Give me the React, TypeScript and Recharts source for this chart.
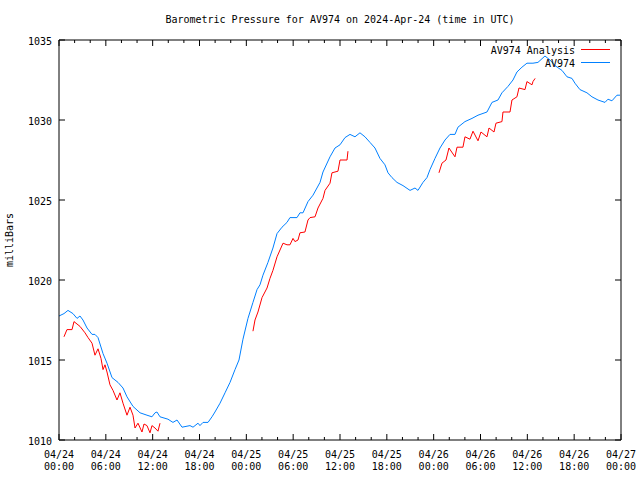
import { LineChart, Line, XAxis, YAxis } from 'recharts'

// hours since 04/24 00:00 UTC
const blueHours = [
  0, 0.64, 1.15, 1.79, 2.31, 2.69, 3.07, 3.59, 4.23, 4.61, 5.0, 5.64, 6.15, 6.79, 7.56, 8.2, 8.71, 9.48,
  10.38, 11.27, 11.91, 12.3, 12.55, 12.94, 13.96, 14.6, 15.12, 15.76, 16.78, 17.17, 17.81, 18.06, 18.45,
  19.09, 19.6, 19.98, 20.63, 21.27, 21.91, 22.55, 23.06, 23.57, 24.21, 24.85, 25.37, 25.75, 26.13, 26.77,
  27.41, 27.93, 28.57, 29.21, 29.59, 30.49, 30.87, 31.26, 31.9, 32.54, 33.44, 33.82, 34.72, 35.36, 36.0,
  36.64, 37.28, 37.92, 38.56, 39.2, 39.84, 40.48, 41.12, 41.76, 42.15, 42.66, 43.3, 44.07, 44.97, 45.61,
  45.99, 46.63, 47.14, 47.53, 48.17, 48.81, 49.45, 50.09, 50.73, 51.11, 52.01, 52.91, 53.68, 54.83, 55.47,
  56.24, 56.75, 57.52, 58.16, 58.67, 59.31, 59.95, 60.72, 61.36, 62.26, 62.9, 63.54, 64.44, 65.08, 65.72,
  66.1, 66.74, 67.64, 68.28, 69.05, 69.95, 70.33, 70.84, 71.48, 71.87,
]
const bluePressure = [
  1017.75, 1017.9, 1018.1, 1017.9, 1017.6, 1017.75, 1017.5, 1017.0, 1016.6, 1016.6, 1016.4, 1015.4, 1014.8,
  1013.9, 1013.6, 1013.25, 1012.7, 1012.1, 1011.7, 1011.55, 1011.45, 1011.7, 1011.75, 1011.45, 1011.3,
  1011.1, 1011.25, 1010.8, 1010.9, 1010.8, 1011.05, 1010.9, 1011.1, 1011.1, 1011.45, 1011.75, 1012.3,
  1012.95, 1013.6, 1014.4, 1015.0, 1016.3, 1017.6, 1018.6, 1019.4, 1019.7, 1020.3, 1021.1, 1022.0, 1022.9,
  1023.3, 1023.6, 1023.9, 1023.9, 1024.2, 1024.2, 1024.9, 1025.3, 1026.1, 1026.75, 1027.7, 1028.25,
  1028.45, 1028.9, 1029.1, 1028.95, 1029.2, 1028.95, 1028.6, 1028.25, 1027.6, 1027.2, 1026.7, 1026.4,
  1026.1, 1025.9, 1025.6, 1025.75, 1025.6, 1026.1, 1026.4, 1026.9, 1027.6, 1028.25, 1028.75, 1029.1,
  1029.1, 1029.55, 1029.9, 1030.1, 1030.3, 1030.5, 1031.1, 1031.25, 1031.7, 1032.1, 1032.5, 1033.0,
  1033.3, 1033.55, 1033.55, 1033.6, 1034.0, 1033.75, 1033.4, 1033.1, 1032.7, 1032.6, 1032.3, 1031.9,
  1031.7, 1031.45, 1031.25, 1031.1, 1031.3, 1031.2, 1031.55, 1031.55,
]

// analysis runs, null = gap between runs
const redHours = [
  0.64, 1.02, 1.67, 1.92, 2.69, 3.33, 3.72, 4.23, 4.61, 5.0, 5.38, 5.64, 5.89, 6.15, 6.53, 6.92, 7.43, 7.81,
  8.2, 8.71, 9.1, 9.48, 9.74, 10.12, 10.63, 10.89, 11.27, 11.66, 11.91, 12.3, 12.68, 12.94,
  13.5,
  24.85, 25.11, 25.49, 26.01, 26.65, 27.03, 27.41, 27.93, 28.7, 29.21, 29.59, 29.98, 30.23, 30.62, 30.87,
  31.51, 31.9, 32.16, 32.8, 33.18, 33.82, 34.08, 34.72, 34.97, 35.74, 36.0, 36.9, 37.02,
  42,
  48.68, 49.06, 49.58, 49.96, 50.73, 50.99, 51.75, 52.01, 52.65, 53.04, 53.68, 54.06, 54.83, 55.09, 55.73,
  55.98, 56.75, 56.88, 57.78, 58.03, 58.67, 58.93, 59.7, 59.95, 60.6, 60.72, 61.0,
]
const redPressure: (number | null)[] = [
  1016.45, 1016.9, 1016.9, 1017.4, 1017.1, 1016.7, 1016.4, 1016.05, 1015.3, 1015.7, 1015.1, 1014.4, 1014.7,
  1014.25, 1013.45, 1013.1, 1012.5, 1012.95, 1012.3, 1011.55, 1012.05, 1011.55, 1010.75, 1011.05, 1010.5,
  1011.0, 1010.9, 1010.45, 1010.9, 1010.75, 1010.55, 1011.05,
  null,
  1016.8, 1017.5, 1018.0, 1018.9, 1019.5, 1020.1, 1020.6, 1021.45, 1022.3, 1022.2, 1022.2, 1022.6, 1022.4,
  1022.5, 1022.95, 1023.0, 1023.75, 1023.9, 1023.95, 1024.5, 1025.1, 1025.6, 1026.05, 1026.7, 1026.8,
  1027.5, 1027.5, 1028.05,
  null,
  1026.7, 1027.3, 1027.5, 1028.25, 1027.7, 1028.3, 1028.3, 1028.95, 1028.8, 1029.3, 1028.7, 1029.25,
  1028.95, 1029.5, 1029.25, 1029.8, 1029.9, 1030.5, 1030.5, 1031.25, 1031.45, 1032.0, 1031.9, 1032.4,
  1032.2, 1032.4, 1032.6,
]

const hourTicks = [0, 2, 4, 6, 8, 10, 12, 14, 16, 18, 20, 22, 24, 26, 28, 30, 32, 34, 36, 38, 40, 42, 44, 46, 48, 50, 52, 54, 56, 58, 60, 62, 64, 66, 68, 70, 72]
const pressureTicks = [1010, 1015, 1020, 1025, 1030, 1035]
const dayLabels = ['04/24', '04/24', '04/24', '04/24', '04/25', '04/25', '04/25', '04/25', '04/26', '04/26', '04/26', '04/26', '04/27']
const timeLabels = ['00:00', '06:00', '12:00', '18:00', '00:00', '06:00', '12:00', '18:00', '00:00', '06:00', '12:00', '18:00', '00:00']

const blueData = blueHours.map((h, i) => ({ h, p: bluePressure[i] }))
const redData = redHours.map((h, i) => ({ h, p: redPressure[i] }))

const FONT = '"DejaVu Sans Mono", monospace'
const BLUE = '#0080ff'
const RED = '#ff0000'

const BottomTick = (props: any) => {
  const { x, y, payload } = props
  const v = payload.value
  const major = v % 6 === 0
  return (
    <g>
      <line x1={x} y1={y} x2={x} y2={y - (major ? 6 : 3)} stroke="#000" />
      {major && (
        <text fontFamily={FONT} fontSize={10} fill="#000" textAnchor="middle">
          <tspan x={x} y={y + 18}>{dayLabels[v / 6]}</tspan>
          <tspan x={x} y={y + 30}>{timeLabels[v / 6]}</tspan>
        </text>
      )}
    </g>
  )
}

const TopTick = (props: any) => {
  const { x, y, payload } = props
  const major = payload.value % 6 === 0
  return <line x1={x} y1={y} x2={x} y2={y + (major ? 6 : 3)} stroke="#000" />
}

const LeftTick = (props: any) => {
  const { x, y, payload } = props
  return (
    <g>
      <line x1={x} y1={y} x2={x + 6} y2={y} stroke="#000" />
      <text x={x - 7} y={y + 5} fontFamily={FONT} fontSize={10} fill="#000" textAnchor="end">
        {payload.value}
      </text>
    </g>
  )
}

const RightTick = (props: any) => {
  const { x, y } = props
  return <line x1={x} y1={y} x2={x - 6} y2={y} stroke="#000" />
}

export default function App() {
  return (
    <div style={{ position: 'absolute', left: 0, top: 0, width: 640, height: 480, background: '#fff' }}>
      <LineChart width={640} height={480} margin={{ top: 30, right: 0, bottom: 0, left: 0 }}>
        <XAxis
          dataKey="h"
          type="number"
          domain={[0, 72]}
          ticks={hourTicks}
          interval={0}
          height={40}
          tickSize={0}
          tickMargin={0}
          tick={<BottomTick />}
          axisLine={{ stroke: '#000' }}
          allowDataOverflow
        />
        <XAxis
          xAxisId="top"
          orientation="top"
          dataKey="h"
          type="number"
          domain={[0, 72]}
          ticks={hourTicks}
          interval={0}
          height={10}
          tickSize={0}
          tickMargin={0}
          tick={<TopTick />}
          axisLine={{ stroke: '#000' }}
          allowDataOverflow
        />
        <YAxis
          type="number"
          domain={[1010, 1035]}
          ticks={pressureTicks}
          interval={0}
          width={59}
          tickSize={0}
          tickMargin={0}
          tick={<LeftTick />}
          axisLine={{ stroke: '#000' }}
          allowDataOverflow
        />
        <YAxis
          yAxisId="right"
          orientation="right"
          type="number"
          domain={[1010, 1035]}
          ticks={pressureTicks}
          interval={0}
          width={19}
          tickSize={0}
          tickMargin={0}
          tick={<RightTick />}
          axisLine={{ stroke: '#000' }}
          allowDataOverflow
        />
        <Line
          data={redData}
          dataKey="p"
          name="AV974 Analysis"
          type="linear"
          stroke={RED}
          strokeWidth={1}
          dot={false}
          isAnimationActive={false}
        />
        <Line
          data={blueData}
          dataKey="p"
          name="AV974"
          type="linear"
          stroke={BLUE}
          strokeWidth={1}
          dot={false}
          isAnimationActive={false}
        />
      </LineChart>
      <svg
        width={640}
        height={480}
        style={{ position: 'absolute', left: 0, top: 0, pointerEvents: 'none' }}
        fontFamily={FONT}
        fontSize={10}
      >
        <text x={340} y={23} textAnchor="middle" fill="#000">
          Barometric Pressure for AV974 on 2024-Apr-24 (time in UTC)
        </text>
        <text x={13} y={240} textAnchor="middle" fill="#000" transform="rotate(-90 13 240)">
          milliBars
        </text>
        <text x={575} y={54} textAnchor="end" fill="#000">AV974 Analysis</text>
        <line x1={581} y1={49.5} x2={610} y2={49.5} stroke={RED} />
        <text x={575} y={67} textAnchor="end" fill="#000">AV974</text>
        <line x1={581} y1={62.5} x2={610} y2={62.5} stroke={BLUE} />
      </svg>
    </div>
  )
}
